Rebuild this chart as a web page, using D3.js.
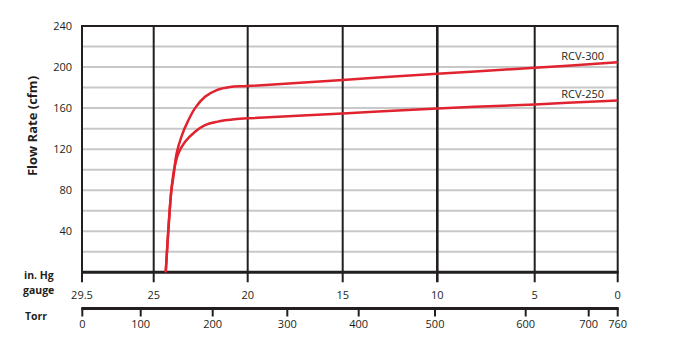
<!DOCTYPE html>
<html lang="en">
<head>
    <meta charset="UTF-8">
    <script src="https://d3js.org/d3.v7.min.js"></script>
    <style>
        body{ margin:0; background:#fff; }
        text{ font-family:"Myriad Pro","Open Sans",sans-serif; fill:#231f20; }
        .bold{ font-weight:bold; }
    </style>
    <title>Flow Rate</title>
</head>
<body>
    <svg width="677" height="353"></svg>
    <script>
        // data
        const hgTicks = [29.5, 25, 20, 15, 10, 5, 0];
        const torrTicks = [0, 100, 200, 300, 400, 500, 600, 700, 760];
        const flowTicks = [40, 80, 120, 160, 200, 240];
        const flowGrid = [20, 40, 60, 80, 100, 120, 140, 160, 180, 200, 220];

        const rcv300Hg   = [24.36, 24.06, 23.96, 23.78, 23.51, 23.16, 22.80, 22.27, 21.65, 20.94, 20, 15, 10, 5, 0];
        const rcv300Flow = [0, 80, 92, 116, 133, 148, 160, 171, 177.6, 180.6, 181.5, 187.5, 193.5, 199.3, 204.6];
        const rcv250Hg   = [24.36, 24.06, 23.92, 23.69, 23.34, 22.80, 22.27, 21.65, 20.59, 20, 15, 10, 5, 0];
        const rcv250Flow = [0, 80, 99.5, 115.8, 127, 137, 143.4, 146.6, 149.3, 150, 154.8, 159.7, 163.6, 167.5];

        const svg = d3.select("svg");

        // the printed axes are not evenly spaced, so piecewise scales
        const x = d3.scaleLinear()
            .domain(hgTicks)
            .range([82, 153.7, 247.7, 342.7, 437.3, 534.7, 617.7]);
        const xTorr = d3.scaleLinear()
            .domain(torrTicks)
            .range([82.3, 140.7, 212.7, 287.3, 358.7, 435, 525.7, 588.7, 617.7]);
        const y = d3.scaleLinear().domain([0, 240]).range([272.3, 26]);

        // horizontal grid
        svg.append("g").selectAll("line")
            .data(flowGrid)
            .join("line")
            .attr("x1", x(29.5)).attr("x2", x(0))
            .attr("y1", d => y(d)).attr("y2", d => y(d))
            .attr("stroke", "#c8c8c8").attr("stroke-width", 2);

        // vertical lines + ticks below
        svg.append("g").selectAll("line")
            .data(hgTicks)
            .join("line")
            .attr("x1", d => x(d)).attr("x2", d => x(d))
            .attr("y1", y(240)).attr("y2", y(0) + 10)
            .attr("stroke", "#231f20")
            .attr("stroke-width", d => d === 10 ? 2.6 : 2);

        // top border
        svg.append("line")
            .attr("x1", x(29.5) - 1).attr("x2", x(0) + 1)
            .attr("y1", y(240)).attr("y2", y(240))
            .attr("stroke", "#231f20").attr("stroke-width", 2);

        // bottom axis line
        svg.append("line")
            .attr("x1", x(29.5) - 1).attr("x2", x(0) + 1)
            .attr("y1", y(0)).attr("y2", y(0))
            .attr("stroke", "#231f20").attr("stroke-width", 3);

        // y labels
        svg.append("g").selectAll("text")
            .data(flowTicks)
            .join("text")
            .attr("x", 72).attr("y", d => y(d) + 4)
            .attr("text-anchor", "end")
            .attr("font-size", 11)
            .text(d => d);

        svg.append("text")
            .attr("class", "bold")
            .attr("transform", "translate(37,126) rotate(-90)")
            .attr("text-anchor", "middle")
            .attr("font-size", 13)
            .text("Flow Rate (cfm)");

        // in. Hg labels
        svg.append("g").selectAll("text")
            .data(hgTicks)
            .join("text")
            .attr("x", d => x(d)).attr("y", 299)
            .attr("text-anchor", "middle")
            .attr("font-size", 11)
            .text(d => d);

        // Torr axis
        svg.append("line")
            .attr("x1", xTorr(0) - 1).attr("x2", xTorr(760) + 1)
            .attr("y1", 308.5).attr("y2", 308.5)
            .attr("stroke", "#231f20").attr("stroke-width", 3);
        svg.append("g").selectAll("line")
            .data(torrTicks)
            .join("line")
            .attr("x1", d => xTorr(d)).attr("x2", d => xTorr(d))
            .attr("y1", 308).attr("y2", 316.5)
            .attr("stroke", "#231f20").attr("stroke-width", 2);
        svg.append("g").selectAll("text")
            .data(torrTicks)
            .join("text")
            .attr("x", d => xTorr(d)).attr("y", 328)
            .attr("text-anchor", "middle")
            .attr("font-size", 11)
            .text(d => d);

        svg.append("text").attr("class", "bold").attr("x", 24).attr("y", 279).attr("font-size", 10.5).text("in. Hg");
        svg.append("text").attr("class", "bold").attr("x", 23).attr("y", 294).attr("font-size", 10.5).text("gauge");
        svg.append("text").attr("class", "bold").attr("x", 25).attr("y", 320).attr("font-size", 10.5).text("Torr");

        // curves
        const line = d3.line()
            .x(d => x(d[0]))
            .y(d => y(d[1]))
            .curve(d3.curveCatmullRom.alpha(0.5));

        const series = [
            { name: "RCV-300", hg: rcv300Hg, flow: rcv300Flow },
            { name: "RCV-250", hg: rcv250Hg, flow: rcv250Flow }
        ];

        series.forEach(s => {
            const pts = s.hg.map((h, i) => [h, s.flow[i]]);
            svg.append("path")
                .attr("d", line(pts))
                .attr("fill", "none")
                .attr("stroke", "#e0232e")
                .attr("stroke-width", 2.5);
            svg.append("text")
                .attr("x", 604)
                .attr("y", y(s.flow[s.flow.length - 1]) - 2.5)
                .attr("text-anchor", "end")
                .attr("font-size", 11)
                .text(s.name);
        });
    </script>
</body>
</html>
